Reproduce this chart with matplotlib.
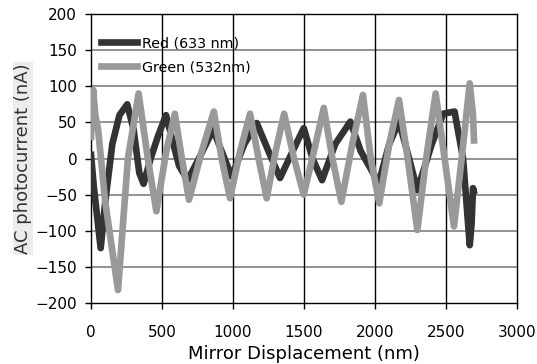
import matplotlib.pyplot as plt

plt.rcParams['font.family'] = ['DejaVu Sans']

# values (displacement in nm, current in nA)
red_x = [0, 20, 68, 100, 150, 200, 255, 300, 340, 370, 420, 470, 528, 580, 620, 680,
         760, 860, 920, 990, 1080, 1167, 1250, 1331, 1420, 1498, 1560, 1627, 1720,
         1826, 1900, 2026, 2100, 2169, 2240, 2298, 2400, 2480, 2560, 2620, 2667,
         2680, 2690, 2695]
red_y = [5, -40, -124, -60, 20, 60, 75, 40, -20, -35, 0, 30, 60, 20, -10, -30,
         0, 40, 10, -25, 20, 49, 10, -27, 10, 42, 0, -30, 20,
         51, 10, -34, 20, 51, 0, -44, 20, 62, 65, 0, -120,
         -90, -41, -45]

green_x = [0, 15, 30, 50, 100, 190, 260, 335, 400, 460, 530, 590, 640, 690, 780, 865,
           920, 979, 1050, 1120, 1180, 1237, 1300, 1360, 1430, 1498, 1570, 1639, 1700,
           1763, 1840, 1915, 1970, 2030, 2100, 2169, 2230, 2298, 2360, 2427, 2490,
           2556, 2610, 2667, 2690, 2697]
green_y = [30, 95, 60, 40, -60, -182, 0, 90, 0, -73, 10, 62, 0, -57, 10, 65,
           0, -55, 10, 62, 0, -55, 10, 62, 0, -50, 10, 70, 0,
           -60, 20, 88, 0, -62, 20, 81, 0, -99, 0, 90, 0,
           -94, 0, 104, 60, 25]

x_ticks = [0, 500, 1000, 1500, 2000, 2500, 3000]
y_ticks = [-200, -150, -100, -50, 0, 50, 100, 150, 200]

fig = plt.figure(figsize=(5.37, 3.64), dpi=100)
ax = fig.add_axes([0.1695, 0.1676, 0.7933, 0.7939])

ax.plot(red_x, red_y, color='#333333', lw=4.8, label='Red (633 nm)', zorder=3)
ax.plot(green_x, green_y, color='#999999', lw=4.8, label='Green (532nm)', zorder=4)

ax.set_xlim(0, 3000)
ax.set_ylim(-200, 200)
ax.set_xticks(x_ticks)
ax.set_yticks(y_ticks)

# gridlines: horizontal grey, vertical black
for y in y_ticks[1:-1]:
    ax.axhline(y, color='#808080', lw=1.2, zorder=1)
for x in x_ticks[1:-1]:
    ax.axvline(x, color='black', lw=1.0, zorder=1)

for s in ax.spines.values():
    s.set_linewidth(1.0)
    s.set_color('black')

ax.tick_params(axis='x', direction='out', length=4, width=1, pad=12, labelsize=11)
ax.tick_params(axis='y', direction='out', length=4, width=1, pad=6, labelsize=11)

ax.set_xlabel('Mirror Displacement (nm)', fontsize=13)
ax.xaxis.set_label_coords(0.5, -0.145)
ax.set_ylabel('AC photocurrent (nA)', fontsize=13, color='#333333',
              bbox=dict(facecolor='#ececec', edgecolor='none', pad=0.5))
ax.yaxis.set_label_coords(-0.139, 0.5)

ax.legend(loc='upper left', bbox_to_anchor=(0.023, 0.923), frameon=False,
          borderpad=0, borderaxespad=0, handlelength=2.5, handletextpad=0.35,
          labelspacing=0.71, fontsize=10.3)

fig.savefig('out.png', dpi=100)
